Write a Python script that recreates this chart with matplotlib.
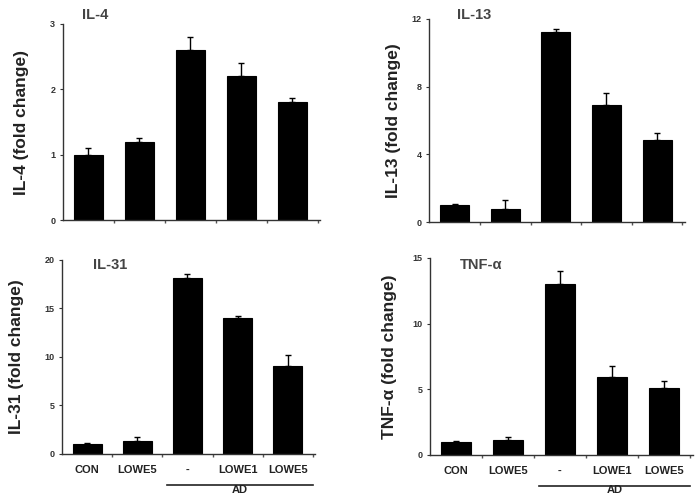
import matplotlib
matplotlib.use("Agg")
import matplotlib.pyplot as plt
import matplotlib.transforms as mtransforms
import numpy as np

plt.rcParams['font.family'] = ['Liberation Sans', 'DejaVu Sans']

categories = ["CON", "LOWE5", "-", "LOWE1", "LOWE5"]
group_label = "AD"

il4_vals = [1.0, 1.2, 2.6, 2.2, 1.8]
il4_err = [0.1, 0.05, 0.2, 0.2, 0.06]
il13_vals = [1.0, 0.8, 11.2, 6.9, 4.85]
il13_err = [0.05, 0.5, 0.2, 0.7, 0.4]
il31_vals = [1.0, 1.3, 18.1, 14.0, 9.1]
il31_err = [0.1, 0.4, 0.4, 0.2, 1.1]
tnf_vals = [1.0, 1.1, 13.0, 5.9, 5.1]
tnf_err = [0.02, 0.25, 1.0, 0.9, 0.55]

panels = [
    dict(vals=il4_vals, err=il4_err, title="IL-4", ylabel="IL-4 (fold change)",
         yticks=[0, 1, 2, 3], ylim=3, rect=[0.090, 0.556, 0.368, 0.396], labels=False,
         tpos=(0.075, 1.046), lx=-0.132),
    dict(vals=il13_vals, err=il13_err, title="IL-13", ylabel="IL-13 (fold change)",
         yticks=[0, 4, 8, 12], ylim=12, rect=[0.614, 0.552, 0.366, 0.410], labels=False,
         tpos=(0.11, 1.02), lx=-0.110),
    dict(vals=il31_vals, err=il31_err, title="IL-31", ylabel="IL-31 (fold change)",
         yticks=[0, 5, 10, 15, 20], ylim=20, rect=[0.089, 0.085, 0.362, 0.391], labels=True,
         tpos=(0.12, 0.974), lx=-0.150),
    dict(vals=tnf_vals, err=tnf_err, title="TNF-\u03b1", ylabel="TNF-\u03b1 (fold change)",
         yticks=[0, 5, 10, 15], ylim=15, rect=[0.615, 0.083, 0.376, 0.397], labels=True,
         tpos=(0.115, 0.965), lx=-0.126),
]

fig = plt.figure(figsize=(6.99, 4.96), dpi=100)
tc = "#222222"

for p in panels:
    ax = fig.add_axes(p["rect"])
    x = np.arange(len(categories))
    vals = np.array(p["vals"])
    err = np.array(p["err"])
    ax.bar(x, vals, width=0.57, color="black", edgecolor="black", linewidth=0.8, zorder=2)
    ax.errorbar(x, vals, yerr=[np.zeros_like(err), err], fmt="none", ecolor="black",
                elinewidth=1.0, capsize=2.5, capthick=1.0, zorder=3)
    ax.set_xlim(-0.5, 4.55)
    ax.set_ylim(0, p["ylim"])
    ax.set_yticks(p["yticks"])
    ax.set_yticklabels([str(t) for t in p["yticks"]], fontsize=6.5, fontweight="bold", color=tc)
    ax.spines["top"].set_visible(False)
    ax.spines["right"].set_visible(False)
    ax.spines["left"].set_color("#333333")
    ax.spines["bottom"].set_color("#333333")
    ax.spines["left"].set_linewidth(1.0)
    ax.spines["bottom"].set_linewidth(1.0)
    ax.tick_params(axis="y", length=2.5, width=0.8, pad=3, colors="#333333")
    ax.set_xticks(x)
    ax.set_xticks(np.arange(0.5, 5.0, 1.0), minor=True)
    ax.tick_params(axis="x", which="major", length=0, pad=8)
    ax.tick_params(axis="x", which="minor", length=2, width=1.0, direction="out", colors="#555555")
    if p["labels"]:
        ax.set_xticklabels(categories, fontsize=8, fontweight="bold", color=tc)
    else:
        ax.set_xticklabels([])
    ax.set_ylabel(p["ylabel"], fontsize=12.5, fontweight="bold", color=tc)
    ax.yaxis.set_label_coords(p["lx"], 0.5)
    ax.text(p["tpos"][0], p["tpos"][1], p["title"], transform=ax.transAxes, fontsize=10.5,
            fontweight="bold", color="#444444", ha="left", va="center")
    if p["labels"]:
        trans = mtransforms.blended_transform_factory(ax.transData, ax.transAxes)
        ax.plot([1.6, 4.5], [-0.16, -0.16], color="#222222", linewidth=1.2,
                transform=trans, clip_on=False)
        trans2 = mtransforms.blended_transform_factory(ax.transData, fig.transFigure)
        ax.text(3.05, 0.002, group_label, transform=trans2, fontsize=8,
                fontweight="bold", color=tc, ha="center", va="bottom", clip_on=False)

fig.savefig("out.png", dpi=100)
